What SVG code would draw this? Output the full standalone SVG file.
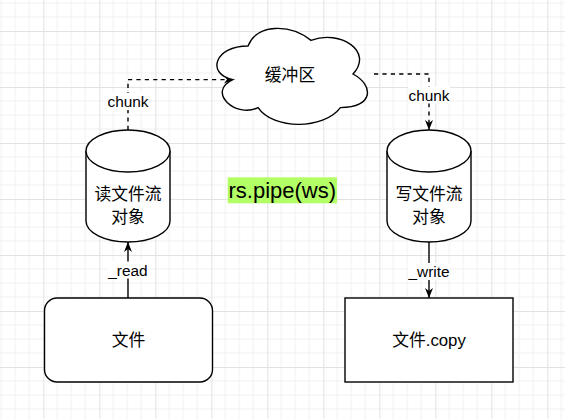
<svg xmlns="http://www.w3.org/2000/svg" width="565" height="419" viewBox="0 0 565 419">
  <defs>
    <pattern id="grid" x="-12.7" y="-25" width="56" height="56" patternUnits="userSpaceOnUse">
      <path d="M14,0 V56 M28,0 V56 M42,0 V56 M0,14 H56 M0,28 H56 M0,42 H56" stroke="#f0f0f0" stroke-width="1" fill="none"/>
      <path d="M0.5,0 V56 M0,0.5 H56" stroke="#e2e2e2" stroke-width="1" fill="none"/>
    </pattern>
    <marker id="arrow" viewBox="0 0 10 8" refX="10" refY="4" markerWidth="10" markerHeight="8" markerUnits="userSpaceOnUse" orient="auto">
      <path d="M0,0 L10,4 L0,8 L3,4 Z" fill="#000"/>
    </marker>
  </defs>
  <style>
    .shape { fill: #fff; stroke: #000; stroke-width: 1.4; }
    .node { font-family: "Liberation Sans", "Noto Sans CJK SC", sans-serif; font-size: 16.8px; fill: #000; text-anchor: middle; }
    .lbl { font-family: "Liberation Sans", "Noto Sans CJK SC", sans-serif; font-size: 15.4px; fill: #000; text-anchor: middle; }
    .edge { fill: none; stroke: #000; stroke-width: 1.4; marker-end: url(#arrow); }
    .dash { stroke-dasharray: 4.2 4.2; }
    .lblbg { fill: #fff; }
  </style>
  <rect width="565" height="419" fill="#fff"/>
  <rect width="565" height="419" fill="url(#grid)"/>

  <g id="connectors">
    <path class="edge dash" d="M128,130 L128,79.6 L234,79.6"/>
    <path class="edge dash" d="M374,74 L429,74 L429,130"/>
    <path class="edge" d="M128,298 L128,242"/>
    <path class="edge" d="M429,242 L429,298"/>
    <rect class="lblbg" x="107" y="93" width="42" height="17"/>
    <text class="lbl" x="128" y="107">chunk</text>
    <rect class="lblbg" x="408" y="86.5" width="42" height="17"/>
    <text class="lbl" x="429" y="100.5">chunk</text>
    <rect class="lblbg" x="108" y="261.5" width="40" height="17"/>
    <text class="lbl" x="128" y="275.5">_read</text>
    <rect class="lblbg" x="408" y="263" width="42" height="17"/>
    <text class="lbl" x="429" y="277">_write</text>
  </g>

  <g id="cloud">
    <path class="shape" d="M248,46 C214.4,46 206,74 232.88,79.6 C206,91.92 236.24,118.8 258.08,107.6 C273.2,130 323.6,130 340.4,107.6 C374,107.6 374,85.2 353,74 C374,51.6 340.4,29.2 311,40.4 C290,23.6 256.4,23.6 248,46 Z"/>
    <text class="node" x="290" y="81">缓冲区</text>
  </g>

  <g id="read-stream">
    <path class="shape" d="M86,151 L86,221 A42,21 0 0 0 170,221 L170,151"/>
    <ellipse class="shape" cx="128" cy="151" rx="42" ry="21"/>
    <text class="node" x="128" y="200">读文件流</text>
    <text class="node" x="128" y="222.5">对象</text>
  </g>

  <g id="write-stream">
    <path class="shape" d="M387,151 L387,221 A42,21 0 0 0 471,221 L471,151"/>
    <ellipse class="shape" cx="429" cy="151" rx="42" ry="21"/>
    <text class="node" x="429" y="200">写文件流</text>
    <text class="node" x="429" y="222.5">对象</text>
  </g>

  <g id="file">
    <rect class="shape" x="44.5" y="298" width="168" height="84" rx="12.6"/>
    <text class="node" x="128.5" y="346">文件</text>
  </g>

  <g id="file-copy">
    <rect class="shape" x="345" y="298" width="168" height="84"/>
    <text class="node" x="429" y="346">文件.copy</text>
  </g>

  <g id="pipe-label">
    <rect x="227.7" y="177.3" width="109.3" height="26" fill="#b3ff66"/>
    <text x="282.3" y="198" font-family="'Liberation Sans', sans-serif" font-size="22" text-anchor="middle" fill="#000">rs.pipe(ws)</text>
  </g>
</svg>
